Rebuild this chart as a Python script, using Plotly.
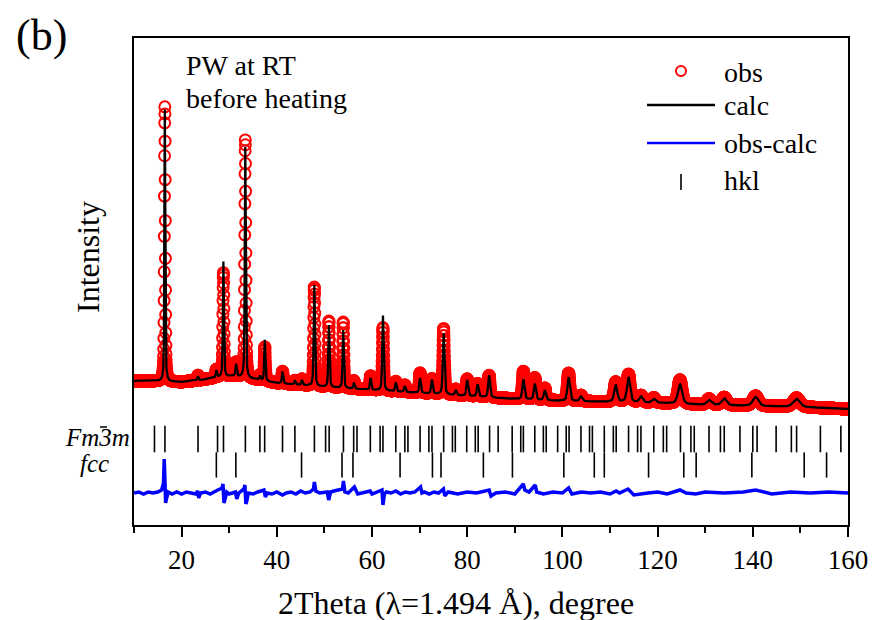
import numpy as np
import plotly.graph_objects as go

# ---------------- data ----------------
# background (2theta in degree, intensity in arbitrary units)
bg_x = [10, 14, 20, 24, 28, 31, 35, 40, 50, 60, 70, 80, 90, 100, 110, 120, 130, 140, 150, 160]
bg_y = [144, 144, 143, 145, 148, 149, 146, 142, 138, 135, 132, 129, 126, 124, 123, 122, 120, 119, 118, 116]

# reflections seen in the pattern: position, calc height, obs height, FWHM
peak_pos = [16.48, 23.45, 27.3, 28.78, 31.45, 33.38, 36.45, 37.48, 41.2, 43.8, 45.3, 47.88,
            50.95, 53.95, 56.2, 59.7, 62.3, 65.0, 66.9, 70.1, 72.6, 75.05, 77.6, 80.0, 82.2,
            84.6, 91.8, 94.2, 96.3, 101.3, 103.9, 111.2, 113.9, 116.5, 119.2, 124.7, 130.8,
            134.0, 140.6, 149.2]
peak_calc = [272, 4, 7, 115, 12, 231, 4, 41, 12, 4, 5, 101,
             62, 58, 6, 12, 75, 9, 6, 15, 14, 61, 5, 16, 12,
             22, 20, 16, 10, 24, 5, 17, 25, 6, 4, 20, 5,
             7, 9, 8]
peak_obs = [275, 5, 8, 104, 14, 238, 5, 34, 12, 4, 6, 99,
            66, 66, 8, 14, 63, 10, 7, 20, 15, 66, 6, 17, 13,
            22, 28, 22, 12, 28, 6, 20, 28, 7, 5, 24, 6,
            8, 10, 9]
peak_fwhm = [0.22, 0.25, 0.3, 0.25, 0.3, 0.25, 0.3, 0.28, 0.3, 0.3, 0.3, 0.3,
             0.3, 0.3, 0.3, 0.32, 0.33, 0.35, 0.35, 0.38, 0.38, 0.4, 0.4, 0.42, 0.42,
             0.45, 0.5, 0.5, 0.5, 0.6, 0.6, 0.75, 0.8, 0.8, 0.85, 1.0, 1.1,
             1.2, 1.4, 1.6]

# difference curve (obs - calc), offset below the pattern
diff_x = [10, 11, 12, 13, 14, 15, 15.8, 16.2, 16.35, 16.5, 16.65, 16.8, 17.2, 18, 19, 20,
          21, 22, 23, 23.4, 23.6, 24, 25, 26, 27, 27.6, 28.5, 28.7, 28.9, 29.1, 29.5, 30,
          31.3, 31.6, 32, 33.1, 33.3, 33.5, 33.7, 34, 35, 36, 37.3, 37.6, 38, 39,
          40, 41.2, 42, 43, 44, 45, 46, 47, 47.7, 47.9, 48.2, 49, 50.6, 50.9, 51.3, 52,
          53.8, 54.0, 54.3, 55, 56.3, 57, 58, 59.6, 60, 61, 62.1, 62.3, 62.6, 63, 64, 65,
          66, 67, 68, 69, 70.2, 70.5, 71, 72, 73, 74, 75.0, 75.3, 76, 78, 80, 82,
          84.6, 85, 86, 88, 90, 91.8, 92.1, 93, 94.3, 94.6, 96, 98, 100, 101.3, 102, 104,
          106, 108, 110, 111.3, 112, 113.8, 115, 118, 120, 122, 124.7, 126, 128, 130, 134, 138,
          140.6, 144, 148, 152, 156, 160]
diff_y = [32, 33, 31, 33, 32, 33, 35, 42, 66, 50, 22, 26, 33, 31, 33, 31,
          33, 32, 31, 34, 27, 32, 33, 31, 33, 35, 37, 41, 22, 27, 33, 31,
          33, 26, 32, 36, 40, 21, 24, 32, 31, 33, 35, 28, 32, 31,
          33, 30, 32, 33, 31, 34, 32, 33, 36, 43, 34, 32, 33, 25, 33, 34,
          36, 44, 33, 32, 38, 31, 32, 34, 31, 33, 35, 20, 31, 33, 32, 34,
          31, 33, 32, 33, 38, 32, 33, 31, 33, 32, 36, 29, 33, 31, 33, 32,
          35, 29, 32, 33, 31, 41, 35, 33, 40, 33, 31, 33, 32, 37, 31, 33,
          32, 33, 31, 34, 32, 36, 30, 32, 33, 31, 35, 32, 31, 33, 32, 33,
          35, 31, 33, 32, 33, 32]

# Bragg reflection markers
hkl_fm3m = [14.3, 16.5, 23.45, 27.55, 28.8, 33.4, 36.45, 37.45, 41.2, 43.8, 47.9, 50.25,
            51.0, 54.0, 56.15, 56.85, 59.65, 61.7, 62.3, 65.0, 66.9, 67.55, 70.1, 71.95,
            72.6, 75.05, 76.9, 77.5, 79.9, 81.7, 82.3, 84.7, 86.5, 89.45, 91.25, 91.8,
            94.2, 96.0, 96.6, 99.0, 100.8, 101.4, 103.9, 105.7, 106.3, 108.8, 110.7, 111.3,
            113.9, 115.8, 116.5, 119.2, 121.2, 121.9, 124.8, 127.0, 127.7, 130.8, 133.2,
            134.0, 137.3, 140.0, 140.9, 144.9, 148.1, 149.2, 154.2, 158.5]
hkl_fcc = [27.3, 31.4, 45.2, 53.7, 56.0, 65.9, 72.7, 74.5, 83.4, 89.5, 100.3, 106.7,
           108.8, 118.1, 125.5, 128.1, 139.8, 150.8, 155.5]

row_fm3m = 86   # level of the Fm-3m tick row
row_fcc = 60    # level of the fcc tick row

# ---------------- profiles ----------------
def pvoigt(x, x0, w, eta=0.5):
    d = (x - x0) / w
    return eta / (1 + 4 * d * d) + (1 - eta) * np.exp(-4 * np.log(2) * d * d)

tt_calc = np.arange(10, 160.001, 0.01)
tt_obs = np.arange(10, 160.001, 0.025)

calc = np.interp(tt_calc, bg_x, bg_y).astype(float)
obs = np.interp(tt_obs, bg_x, bg_y).astype(float)
for p, hc, ho, w in zip(peak_pos, peak_calc, peak_obs, peak_fwhm):
    calc += hc * pvoigt(tt_calc, p, w)
    obs += ho * pvoigt(tt_obs, p, w)

FONT = "Liberation Serif"
RED = "#ff0000"
BLUE = "#0000ff"

fig = go.Figure()
fig.add_trace(go.Scatter(x=tt_obs, y=obs, mode="markers", showlegend=False,
                         marker=dict(symbol="circle-open", size=11, color=RED,
                                     line=dict(width=2, color=RED))))
fig.add_trace(go.Scatter(x=tt_calc, y=calc, mode="lines", showlegend=False,
                         line=dict(color="black", width=2.3)))
fig.add_trace(go.Scatter(x=diff_x, y=diff_y, mode="lines", showlegend=False,
                         line=dict(color=BLUE, width=3.5)))
fig.add_trace(go.Scatter(x=hkl_fm3m, y=[row_fm3m] * len(hkl_fm3m), mode="markers",
                         showlegend=False,
                         marker=dict(symbol="line-ns", size=19, color="black",
                                     line=dict(width=1.6, color="black"))))
fig.add_trace(go.Scatter(x=hkl_fcc, y=[row_fcc] * len(hkl_fcc), mode="markers",
                         showlegend=False,
                         marker=dict(symbol="line-ns", size=18, color="black",
                                     line=dict(width=1.6, color="black"))))

L, R, T, B = 134, 25, 38, 95
PW, PH = 873 - L - R, 620 - T - B


def px(x):
    return (x - L) / PW


def py(y):
    return (620 - B - y) / PH


ann = []
shapes = []

def text(s, x, y, size, xanchor="left", angle=0):
    ann.append(dict(text=s, x=px(x), y=py(y), xref="paper", yref="paper",
                    xanchor=xanchor, yanchor="middle", showarrow=False, textangle=angle,
                    font=dict(family=FONT, size=size, color="black")))

text("(b)", 41, 35, 44, xanchor="center")
text("PW at RT", 184, 65, 28)
text("before heating", 184, 98, 28)
text("Intensity", 88, 257, 32, xanchor="center", angle=-90)
text("2Theta (λ=1.494 Å), degree", 456, 603, 32, xanchor="center")
text("<i>Fm3m</i>", 97, 437, 25, xanchor="center")
text("<i>fcc</i>", 94, 463, 25, xanchor="center")
# bar over the "3" of Fm3m
shapes.append(dict(type="line", xref="paper", yref="paper",
                   x0=px(100), x1=px(107), y0=py(427), y1=py(427),
                   line=dict(color="black", width=1.5)))

# legend
text("obs", 722, 72, 28)
text("calc", 722, 106, 28)
text("obs-calc", 722, 143, 28)
text("hkl", 722, 181, 28)
shapes.append(dict(type="circle", xref="paper", yref="paper",
                   x0=px(676), x1=px(686), y0=py(76), y1=py(66),
                   line=dict(color=RED, width=2)))
shapes.append(dict(type="line", xref="paper", yref="paper",
                   x0=px(647), x1=px(715), y0=py(105), y1=py(105),
                   line=dict(color="black", width=2.5)))
shapes.append(dict(type="line", xref="paper", yref="paper",
                   x0=px(647), x1=px(715), y0=py(143), y1=py(143),
                   line=dict(color=BLUE, width=2.5)))
shapes.append(dict(type="line", xref="paper", yref="paper",
                   x0=px(681), x1=px(681), y0=py(174), y1=py(190),
                   line=dict(color="black", width=1.6)))

fig.update_layout(
    width=873, height=620,
    margin=dict(l=L, r=R, t=T, b=B, autoexpand=False),
    paper_bgcolor="white", plot_bgcolor="white",
    font=dict(family=FONT, color="black"),
    annotations=ann, shapes=shapes,
    xaxis=dict(range=[10, 160], tickmode="array", tickvals=[20, 40, 60, 80, 100, 120, 140, 160],
               ticks="outside", ticklen=10, tickwidth=2, tickcolor="black",
               minor=dict(tickvals=[10, 30, 50, 70, 90, 110, 130, 150], ticks="outside",
                          ticklen=6, tickwidth=2, tickcolor="black"),
               showline=True, linecolor="black", linewidth=2, mirror=True,
               showgrid=False, zeroline=False, automargin=False,
               tickfont=dict(family=FONT, size=27, color="black")),
    yaxis=dict(range=[0, 487], showticklabels=False, ticks="",
               showline=True, linecolor="black", linewidth=2, mirror=True,
               showgrid=False, zeroline=False, automargin=False),
)

fig.write_html("out.html")
